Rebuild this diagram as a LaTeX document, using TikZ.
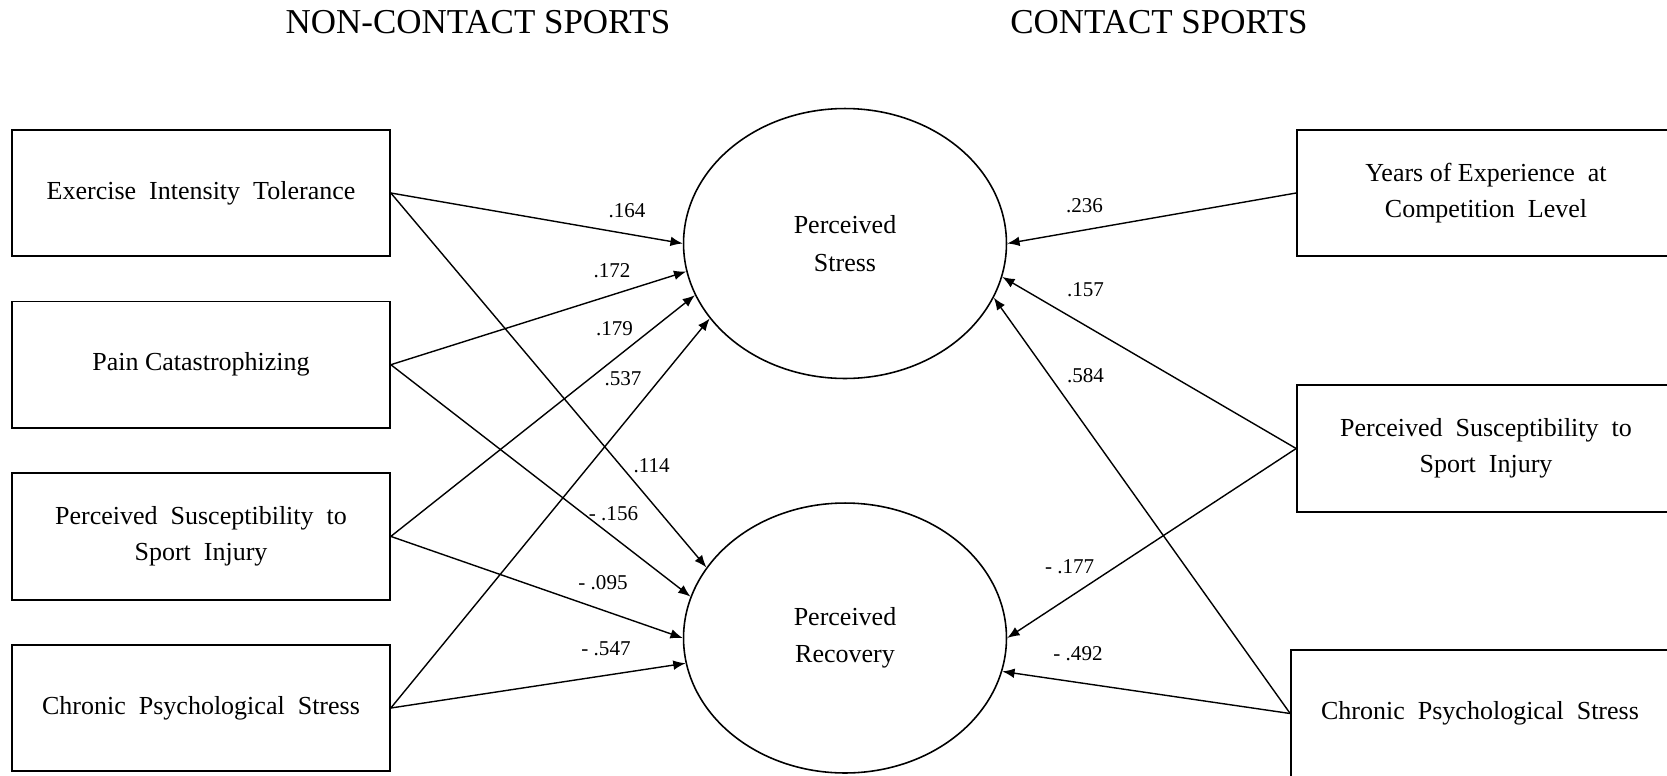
\documentclass[tikz,border=0pt]{standalone}
\usepackage{fontspec}
\setmainfont{Liberation Serif}
\usetikzlibrary{shapes.geometric,arrows.meta}

\tikzset{
  var/.style={draw,line width=1pt,minimum width=7.56cm,minimum height=2.53cm,align=center,
    font=\fontsize{14.8}{20.5}\selectfont},
  lat/.style={draw,ellipse,line width=0.9pt,minimum width=6.46cm,minimum height=5.4cm,align=center,
    font=\fontsize{14.8}{21.3}\selectfont},
  coef/.style={inner sep=0pt,font=\fontsize{12}{14}\selectfont},
  head/.style={font=\fontsize{19.9}{24}\selectfont}
}

\begin{document}
\begin{tikzpicture}[>={Latex[length=7pt,width=5.5pt]},x=0.02cm,y=-0.02cm,line width=0.8pt]
                  \useasboundingbox (0,0) rectangle (1667,775);
                  \node[head] (hnon) at (478,22) {NON-CONTACT SPORTS};
                  \node[head] (hcon) at (1159,22) {CONTACT SPORTS};
                  % latent variables
                  \node[lat] (stress) at (845,243.5) {Perceived\\Stress};
                  \node[lat] (recov) at (845,638) {Perceived\\Recovery};
                  % non-contact sports
                  \node[var] (eit) at (201,193) {Exercise\ \ Intensity\ \ Tolerance};
                  \node[var] (pain) at (201,364.7) {Pain Catastrophizing};
                  \node[var] (pssl) at (201,536.4) {Perceived\ \ Susceptibility\ \ to\\Sport\ \ Injury};
                  \node[var] (cpsl) at (201,708) {Chronic\ \ Psychological\ \ Stress};
                  % contact sports
                  \node[var] (years) at (1486,193) {Years of Experience\ \ at\\Competition\ \ Level};
                  \node[var] (pssr) at (1486,448.5) {Perceived\ \ Susceptibility\ \ to\\Sport\ \ Injury};
                  \node[var] (cpsr) at (1480,713.5) {Chronic\ \ Psychological\ \ Stress};
                  \draw[->] (eit.east)--(stress.180);
                  \draw[->] (eit.east)--(recov.153.8);
                  \draw[->] (pain.east)--(stress.190.1);
                  \draw[->] (pain.east)--(recov.165.4);
                  \draw[->] (pssl.east)--(stress.199.6);
                  \draw[->] (pssl.east)--(recov.180);
                  \draw[->] (cpsl.east)--(stress.209.7);
                  \draw[->] (cpsl.east)--(recov.189.4);
                  \draw[->] (years.west)--(stress.0);
                  \draw[->] (pssr.west)--(stress.348.5);
                  \draw[->] (pssr.west)--(recov.0);
                  \draw[->] (cpsr.west)--(stress.340.2);
                  \draw[->] (cpsr.west)--(recov.348.4);
                  % path coefficients
                  \node[coef] (c1) at (627,210.5){.164};
                  \node[coef] (c2) at (612,271){.172};
                  \node[coef] (c3) at (614.5,328.5){.179};
                  \node[coef] (c4) at (623,378.5){.537};
                  \node[coef] (c5) at (651.7,465.7){.114};
                  \node[coef] (c6) at (613.5,513.5){- .156};
                  \node[coef] (c7) at (603,582.6){- .095};
                  \node[coef] (c8) at (606,648.5){- .547};
                  \node[coef] (c9) at (1084.5,206){.236};
                  \node[coef] (c10) at (1085.5,290){.157};
                  \node[coef] (c11) at (1085.5,376){.584};
                  \node[coef] (c12) at (1069.6,566.7){- .177};
                  \node[coef] (c13) at (1078,653.9){- .492};
              \end{tikzpicture}
\end{document}
